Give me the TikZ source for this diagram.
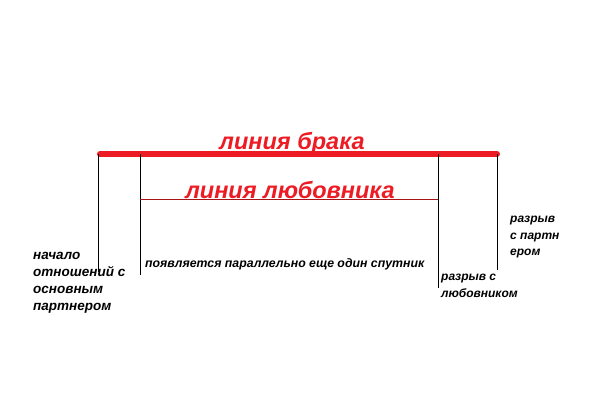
\documentclass[tikz,border=0pt]{standalone}
\usepackage{fontspec}
\setmainfont{Liberation Sans}
\definecolor{paintred}{RGB}{237,28,36}
\begin{document}
\begin{tikzpicture}[x=1pt, y=-1pt,
  bigred/.style={text=paintred, font=\fontsize{23.5}{23.5}\selectfont\bfseries\itshape, inner sep=0pt},
  note/.style={font=\fontsize{13.5}{17}\selectfont\bfseries\itshape, align=left, inner sep=0pt, anchor=north west},
  small/.style={font=\fontsize{12}{16.5}\selectfont\bfseries\itshape, align=left, inner sep=0pt, anchor=north west}]
\useasboundingbox[fill=white] (0,0) rectangle (600,400);
% marriage line and its ends
\coordinate (mL) at (100,154);
\coordinate (mR) at (497,154);
\draw[paintred, line width=6pt, line cap=round] (mL) -- (mR);
\draw (98,154) -- (98,272); % start
\draw (497,154) -- (497,270); % break with partner
% lover line
\coordinate (lL) at (140,199);
\coordinate (lR) at (438,199);
\draw (140,154) -- (140,275);
\draw (438,154) -- (438,288);
\draw[paintred!70!black, line width=0.6pt] (lL) -- (lR);
% labels
\node[bigred] (marriage) at (292,143) {линия брака};
\node[bigred] (lover) at (290,190) {линия любовника};
\node[note] (start) at (33,252) {начало\\отношений с\\основным\\партнером};
\node[small, font=\fontsize{12.3}{16}\selectfont\bfseries\itshape] (appear) at (145,258) {появляется параллельно еще один спутник};
\node[small] (loverbreak) at (441,274) {разрыв с\\любовником};
\node[small] (partnerbreak) at (510,216) {разрыв\\с партн\\ером};
\end{tikzpicture}
\end{document}
